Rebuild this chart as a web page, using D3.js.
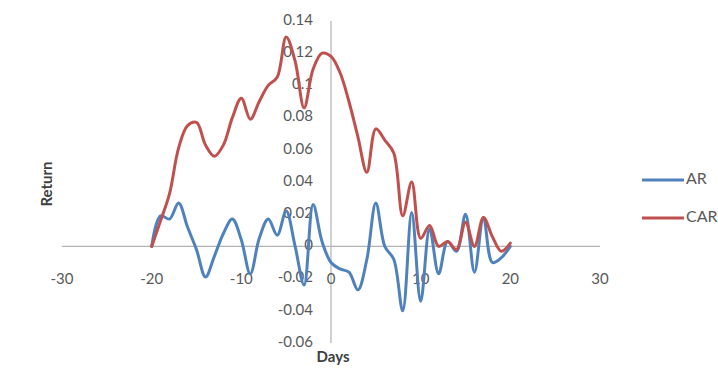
<!DOCTYPE html>
<html><head><meta charset="utf-8">
<script src="https://cdn.jsdelivr.net/npm/d3@7"></script>
<style>body{margin:0;background:#fff;overflow:hidden}</style>
</head><body><svg id="c" width="718" height="370"></svg>
<script>
const days = [-20,-19,-18,-17,-16,-15,-14,-13,-12,-11,-10,-9,-8,-7,-6,-5,-4,-3,-2,-1,0,1,2,3,4,5,6,7,8,9,10,11,12,13,14,15,16,17,18,19,20];
const AR = [0,0.019,0.017,0.027,0.012,-0.002,-0.019,-0.006,0.008,0.017,0.004,-0.017,0.005,0.017,0.007,0.022,0.0,-0.024,0.026,0.003,-0.01,-0.014,-0.016,-0.027,-0.008,0.027,0.0,-0.008,-0.04,0.021,-0.034,0.011,-0.017,0.003,-0.003,0.02,-0.016,0.018,-0.01,-0.007,0.0];
const CAR = [0,0.016,0.033,0.061,0.075,0.077,0.063,0.056,0.063,0.08,0.092,0.079,0.09,0.1,0.105,0.13,0.115,0.086,0.11,0.12,0.118,0.108,0.09,0.068,0.046,0.073,0.066,0.058,0.019,0.04,0.005,0.013,0.0,0.003,-0.002,0.015,0.0,0.018,0.006,-0.003,0.002];
const xTicks = [-30,-20,-10,0,10,20,30];
const yTicks = [-0.06,-0.04,-0.02,0,0.02,0.04,0.06,0.08,0.1,0.12,0.14];
const seriesNames = ["AR","CAR"];
const colors = ["#4F81BD","#C0504D"];

const svg = d3.select("#c");
const x = d3.scaleLinear().domain([-30,30]).range([62,600]);
const y = d3.scaleLinear().domain([-0.06,0.14]).range([343,21]);
const font = "Lato, 'Open Sans', sans-serif";

// axes lines
svg.append("line").attr("x1",x(-30)).attr("x2",x(30)).attr("y1",y(0)).attr("y2",y(0))
  .attr("stroke","#b3b3b3").attr("stroke-width",1.2);
svg.append("line").attr("x1",x(0)).attr("x2",x(0)).attr("y1",y(0.14)).attr("y2",y(-0.06))
  .attr("stroke","#b3b3b3").attr("stroke-width",1.2);

// x tick labels
svg.selectAll(".xt").data(xTicks).enter().append("text")
  .attr("x",d=>x(d)).attr("y",y(-0.06)-63).attr("text-anchor","middle")
  .attr("dominant-baseline","middle")
  .attr("font-family",font).attr("font-size",15).attr("fill","#595959")
  .text(d=>d);
// y tick labels
const fmt = d=> d===0 ? "0" : String(+d.toFixed(2));
svg.selectAll(".yt").data(yTicks).enter().append("text")
  .attr("x",x(0)-18).attr("y",d=>y(d)).attr("text-anchor","end")
  .attr("dominant-baseline","middle")
  .attr("font-family",font).attr("font-size",15).attr("fill","#595959")
  .text(fmt);

// titles
svg.append("text").attr("transform",`translate(48,${184}) rotate(-90)`)
  .attr("text-anchor","middle").attr("dominant-baseline","middle")
  .attr("font-family",font).attr("font-weight","bold").attr("font-size",15).attr("fill","#404040")
  .text("Return");
svg.append("text").attr("x",333).attr("y",358).attr("text-anchor","middle").attr("dominant-baseline","middle")
  .attr("font-family",font).attr("font-weight","bold").attr("font-size",15).attr("fill","#404040")
  .text("Days");

// lines
const line = d3.line().x(d=>x(d[0])).y(d=>y(d[1])).curve(d3.curveCatmullRom.alpha(0.5));
[AR,CAR].forEach((vals,i)=>{
  svg.append("path").datum(days.map((d,j)=>[d,vals[j]]))
    .attr("d",line).attr("fill","none").attr("stroke",colors[i])
    .attr("stroke-width",3).attr("stroke-linejoin","round").attr("stroke-linecap","round");
});

// legend
const lg = svg.selectAll(".lg").data(seriesNames).enter().append("g")
  .attr("transform",(d,i)=>`translate(642,${180+i*38})`);
lg.append("line").attr("x1",0).attr("x2",42).attr("stroke",(d,i)=>colors[i]).attr("stroke-width",3);
lg.append("text").attr("x",44).attr("y",0).attr("dominant-baseline","middle")
  .attr("font-family",font).attr("font-size",16).attr("fill","#595959").text(d=>d);
</script></body></html>
